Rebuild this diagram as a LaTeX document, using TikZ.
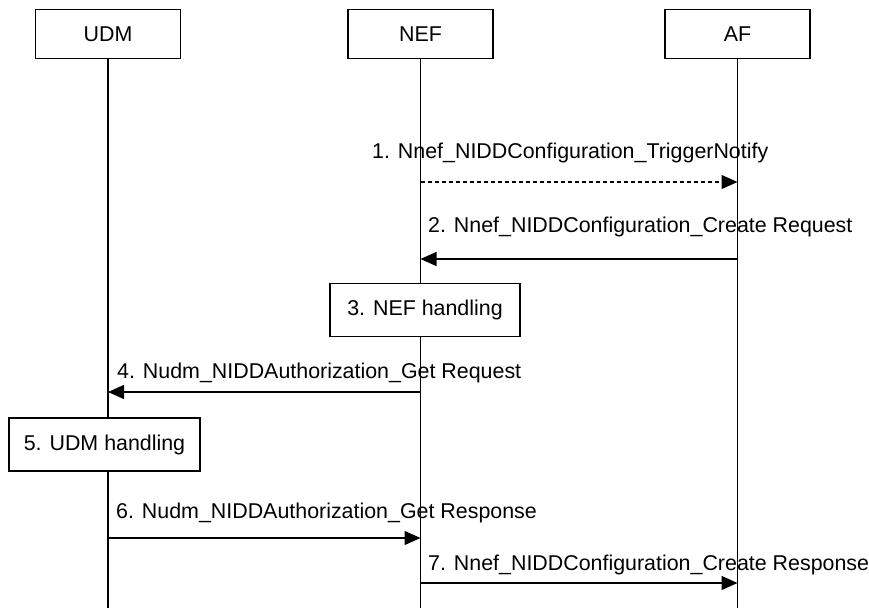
\documentclass[tikz,border=0pt]{standalone}
\usepackage{fontspec}
\setmainfont{Liberation Sans}
\usetikzlibrary{arrows.meta,positioning}

\begin{document}
\begin{tikzpicture}[x=1pt, y=-1pt, >={Triangle[length=16pt,width=14pt]},
  font=\fontsize{21.4}{25}\selectfont,
  ent/.style={draw, line width=1.2pt, minimum width=145pt, minimum height=49pt, inner sep=0pt},
  act/.style={draw, line width=1.2pt, fill=white, minimum height=53pt, inner sep=0pt},
  life/.style={line width=1.2pt},
  msg/.style={->, line width=1.2pt},
  opt/.style={->, line width=1.1pt, dash pattern=on 4pt off 3pt},
  lab/.style={anchor=base west, inner sep=0pt}]

  \useasboundingbox (0,0) rectangle (869,608);

  % entities and lifelines
  \node[ent] (udm) at (108,34)   {UDM};
  \node[ent] (nef) at (420.5,34) {NEF};
  \node[ent] (af)  at (737.5,34) {AF};
  \coordinate (bot) at (0,608);
  \foreach \n in {udm,nef,af}
    \draw[life] (\n.south) -- (\n.south |- bot);

  % message rows
  \coordinate (y1) at (0,182);
  \coordinate (y2) at (0,259);
  \coordinate (y4) at (0,392);
  \coordinate (y6) at (0,538);
  \coordinate (y7) at (0,583);

  \draw[opt] (nef |- y1) -- (af |- y1);
  \node[lab] (l1) at (372,158) {1. Nnef\_NIDDConfiguration\_TriggerNotify};

  \draw[msg] (af |- y2) -- (nef |- y2);
  \node[lab] (l2) at (428,232) {2. Nnef\_NIDDConfiguration\_Create Request};

  \node[act, minimum width=190pt] (nefh) at (425,310) {3. NEF handling};

  \draw[msg] (nef |- y4) -- (udm |- y4);
  \node[lab] (l4) at (117,378) {4. Nudm\_NIDDAuthorization\_Get Request};

  \node[act, minimum width=191pt] (udmh) at (104.5,444.5) {5. UDM handling};

  \draw[msg] (udm |- y6) -- (nef |- y6);
  \node[lab] (l6) at (116,518) {6. Nudm\_NIDDAuthorization\_Get Response};

  \draw[msg] (nef |- y7) -- (af |- y7);
  \node[lab] (l7) at (428,570) {7. Nnef\_NIDDConfiguration\_Create Response};
\end{tikzpicture}
\end{document}
